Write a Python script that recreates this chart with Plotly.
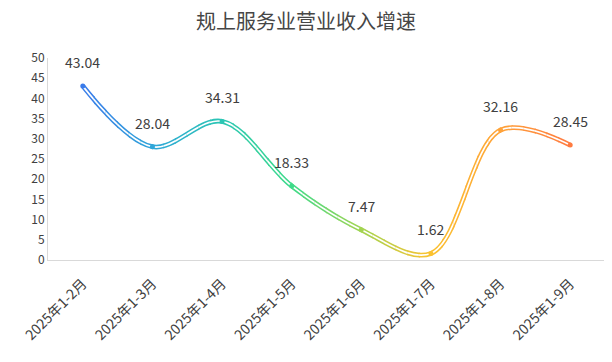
import plotly.graph_objects as go

# ---- data ----
categories = ["2025年1-2月", "2025年1-3月", "2025年1-4月", "2025年1-5月",
              "2025年1-6月", "2025年1-7月", "2025年1-8月", "2025年1-9月"]
growth = [43.04, 28.04, 34.31, 18.33, 7.47, 1.62, 32.16, 28.45]
value_labels = ["43.04", "28.04", "34.31", "18.33", "7.47", "1.62", "32.16", "28.45"]
y_ticks = [0, 5, 10, 15, 20, 25, 30, 35, 40, 45, 50]
title_text = "规上服务业营业收入增速"

# ---- style ----
grad_stops = ["#3a7bea", "#30a6d9", "#2cc6b4", "#3edb8a",
              "#a2d452", "#fbc22f", "#ffa33a", "#ff7b40"]
FONT = "Noto Sans CJK SC, Microsoft YaHei, sans-serif"
PIECES = 6
EXT = 0.008

n = len(categories)
idx = list(range(n))
lo, hi = -0.5, n - 0.5
span = hi - lo


def hex2rgb(h):
    h = h.lstrip("#")
    return tuple(int(h[i:i + 2], 16) for i in (0, 2, 4))


def grad_color(p):
    p = max(0.0, min(n - 1.0, p))
    i = min(int(p), n - 2)
    t = p - i
    a, b = hex2rgb(grad_stops[i]), hex2rgb(grad_stops[i + 1])
    c = [round(a[k] + (b[k] - a[k]) * t) for k in range(3)]
    return "rgb(%d,%d,%d)" % tuple(c)


fig = go.Figure()
layout_axes = {}

# main axes trace (invisible)
fig.add_trace(go.Scatter(x=idx, y=growth, mode="none", hoverinfo="skip",
                         showlegend=False, xaxis="x", yaxis="y"))

ax_num = 2
for i in range(n - 1):
    js = list(range(max(0, i - 1), min(n - 1, i + 2) + 1))
    xs = [idx[j] for j in js]
    ys = [growth[j] for j in js]
    for k in range(PIECES):
        a = i + k / PIECES
        b = i + (k + 1) / PIECES
        a2 = lo if (i == 0 and k == 0) else a - EXT
        b2 = hi if (i == n - 2 and k == PIECES - 1) else b + EXT
        col = grad_color((a + b) / 2)
        name = "x%d" % ax_num
        layout_axes["xaxis%d" % ax_num] = dict(
            domain=[(a2 - lo) / span, (b2 - lo) / span], range=[a2, b2],
            anchor="y", visible=False, fixedrange=True)
        fig.add_trace(go.Scatter(x=xs, y=ys, mode="lines", xaxis=name, yaxis="y",
                                 line=dict(color=col, width=4.8, shape="spline"),
                                 hoverinfo="skip", showlegend=False))
        fig.add_trace(go.Scatter(x=xs, y=ys, mode="lines", xaxis=name, yaxis="y",
                                 line=dict(color="white", width=1.7, shape="spline"),
                                 hoverinfo="skip", showlegend=False))
        ax_num += 1

# top layer for markers and labels
top = "x%d" % ax_num
layout_axes["xaxis%d" % ax_num] = dict(domain=[0, 1], range=[lo, hi], anchor="y",
                                        visible=False, fixedrange=True)
fig.add_trace(go.Scatter(x=idx, y=growth, mode="markers", xaxis=top, yaxis="y",
                         marker=dict(size=5, color=[grad_color(p) for p in idx],
                                     line=dict(width=0)),
                         hoverinfo="skip", showlegend=False))

annotations = [dict(x=x, y=v, xref=top, yref="y", text=t, showarrow=False,
                    yshift=24, font=dict(size=14, color="#404040", family=FONT))
               for x, v, t in zip(idx, growth, value_labels)]

# page body has an 8px margin: compensate
OFF = 8
fig.update_layout(
    width=612, height=362,
    margin=dict(l=48 - OFF, r=7 + OFF, t=58 - OFF, b=102 + OFF, autoexpand=False),
    paper_bgcolor="white", plot_bgcolor="rgba(0,0,0,0)",
    showlegend=False,
    title=dict(text=title_text, x=(306 - OFF) / 612, xanchor="center",
               y=1 - (22 - OFF) / 362, yanchor="middle",
               font=dict(size=20, color="#464646", family=FONT)),
    xaxis=dict(range=[lo, hi], tickvals=idx, ticktext=categories, tickangle=-45,
               showgrid=False, zeroline=False, showline=True, linecolor="#d9d9d9",
               linewidth=1, ticks="", ticklabelstandoff=9,
               tickfont=dict(size=14, color="#404040", family=FONT),
               fixedrange=True),
    yaxis=dict(range=[0, 50], tickvals=y_ticks, showgrid=False, zeroline=False,
               showline=True, linecolor="#d9d9d9", linewidth=1, ticks="",
               tickfont=dict(size=12, color="#404040", family=FONT), fixedrange=True),
    annotations=annotations,
    **layout_axes,
)

fig.write_html("out.html")
